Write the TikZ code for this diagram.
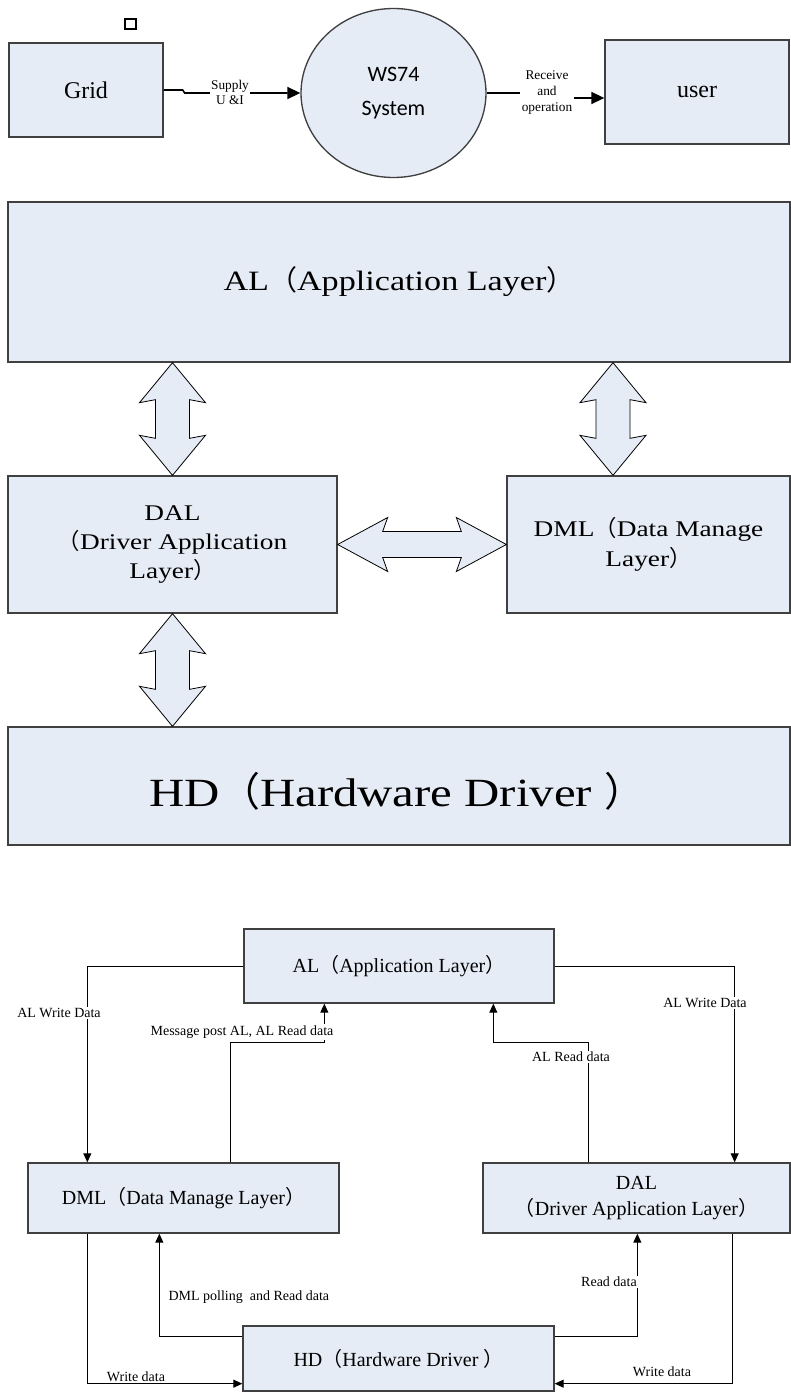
\documentclass[tikz,border=0pt]{standalone}
\usepackage{fontspec}
\setmainfont{Liberation Serif}
\newfontfamily\widefont[FakeStretch=1.22]{Liberation Serif}
\newfontfamily\cjk{Noto Sans CJK SC}
\newfontfamily\calfont{Carlito}
\usetikzlibrary{shapes.geometric, arrows.meta, calc}

\definecolor{boxfill}{RGB}{230,236,246}
\definecolor{boxline}{RGB}{64,64,64}

\newcommand{\lpar}{{\cjk （}}
\newcommand{\rpar}{{\cjk ）}}

\tikzset{
  box/.style={draw=boxline, fill=boxfill, line width=1pt, inner sep=0pt, align=center},
  blockarrow/.style={draw=black, fill=boxfill, line width=0.6pt, line join=miter},
  flow/.style={-{Triangle[length=9.75pt,width=9pt]}, line width=1.2pt},
  link/.style={-{Triangle[length=6.75pt,width=6pt]}, line width=0.75pt},
  tag/.style={fill=white, inner sep=1pt, align=center, font=\fontsize{10.5}{12}\selectfont}
}

% double block arrow, tips at #1 (top) and #2 (bottom)
\newcommand{\vdouble}[2]{%
  \draw[blockarrow] (#1) -- ($(#1)+(33,40)$) -- ($(#1)+(17,37)$) -- ($(#2)+(17,-37)$)
    -- ($(#2)+(33,-40)$) -- (#2) -- ($(#2)+(-33,-40)$) -- ($(#2)+(-17,-37)$)
    -- ($(#1)+(-17,37)$) -- ($(#1)+(-33,40)$) -- cycle;}
% the same lying down, tips at #1 (left) and #2 (right)
\newcommand{\hdouble}[2]{%
  \draw[blockarrow] (#1) -- ($(#1)+(50,-27)$) -- ($(#1)+(45,-13)$) -- ($(#2)+(-45,-13)$)
    -- ($(#2)+(-50,-27)$) -- (#2) -- ($(#2)+(-50,27)$) -- ($(#2)+(-45,13)$)
    -- ($(#1)+(45,13)$) -- ($(#1)+(50,27)$) -- cycle;}

\begin{document}
\begin{tikzpicture}[x=0.75pt,y=0.75pt,yscale=-1,xscale=1]
\useasboundingbox (0,0) rectangle (791,1392);

%Shape: Square
\draw [line width=1pt] (125,19) rectangle (136,29);

%Shape: Rectangle, Ellipse
\node [box, minimum width=115.5pt, minimum height=70.5pt, font=\fontsize{18}{21}\selectfont] (grid) at (86,90) {Grid};
\node [box, ellipse, minimum width=138.75pt, minimum height=126.75pt, font=\calfont\fontsize{16.5}{26}\selectfont] (ws) at (393.5,93) {WS74\\System};
\node [box, minimum width=138pt, minimum height=78pt, font=\fontsize{18}{21}\selectfont] (user) at (697,92) {user};

%Straight Lines
\draw [flow] (grid.east) -- ++(19,0) -- ++(2,3) -- (ws.west);
\draw [flow] (ws.east) -- ++(61,0) -- ++(0,5) coordinate (rx) -- (rx -| user.west);
% Text Node
\node [tag, font=\fontsize{10}{11.5}\selectfont] (supply) at (230,92.5) {Supply\\U \&I};
\node [tag, font=\fontsize{10}{12}\selectfont] (recv) at (547,93) {Receive\\and\\operation};

%Shape: Rectangle
\node [box, minimum width=586.5pt, minimum height=120pt, font=\widefont\fontsize{21}{25}\selectfont] (al) at (399,282) {AL\lpar Application Layer\rpar};
\node [box, minimum width=246.75pt, minimum height=102.75pt, font=\widefont\fontsize{16.8}{21.5}\selectfont] (dal) at (172.5,544.5) {DAL\\\lpar Driver Application\\Layer\rpar};
\node [box, minimum width=212.25pt, minimum height=102.75pt, font=\widefont\fontsize{16.8}{22.5}\selectfont] (dml) at (648.5,544.5) {DML\lpar Data Manage\\Layer\rpar};
\node [box, minimum width=586.5pt, minimum height=88.5pt] (hd) at (399,786) {};
% Text Node
\node [anchor=base, inner sep=0pt, font=\widefont\fontsize{30}{36}\selectfont] (hdtext) at (397,806) {HD\lpar Hardware Driver \rpar};

%Double Arrows
\coordinate (rA) at ($(dml.north)+(-35.5,0)$);
\vdouble{dal.north |- al.south}{dal.north}
\vdouble{rA |- al.south}{rA}
\vdouble{dal.south}{hd.north -| dal.south}
\hdouble{dal.east}{dml.west}

%Shape: Rectangle
\node [box, minimum width=232.5pt, minimum height=55.5pt, font=\fontsize{15}{19.5}\selectfont] (alB) at (399,966) {AL\lpar Application Layer\rpar};
\node [box, minimum width=233.25pt, minimum height=52.5pt, font=\fontsize{15}{19.5}\selectfont] (dmlB) at (183.5,1198) {DML\lpar Data Manage Layer\rpar};
\node [box, minimum width=230.25pt, minimum height=52.5pt, font=\fontsize{15}{19.5}\selectfont] (dalB) at (636.5,1198) {DAL\\\lpar Driver Application Layer\rpar};
\node [box, minimum width=233.25pt, minimum height=48.75pt, font=\fontsize{15}{19.5}\selectfont] (hdB) at (398.5,1358.5) {HD\lpar Hardware Driver \rpar};

%Straight Lines
\draw [link] (alB.west) -| ($(dmlB.north west)+(60,0)$);
\draw [link] (alB.east) -| ($(dalB.north east)+(-56,0)$);
\draw [link] ($(dmlB.north west)+(203,0)$) -- ++(0,-120) -| ($(alB.south west)+(81,0)$);
\draw [link] ($(dalB.north west)+(106,0)$) -- ++(0,-120) -| ($(alB.south west)+(250,0)$);
\draw [link] ($(hdB.north west)+(0,11)$) -| ($(dmlB.south west)+(132,0)$);
\draw [link] ($(dmlB.south west)+(60,0)$) |- ($(hdB.south west)+(0,-8)$);
\draw [link] ($(hdB.north east)+(0,11)$) -| ($(dalB.south west)+(155,0)$);
\draw [link] ($(dalB.south west)+(250,0)$) |- ($(hdB.south east)+(0,-8)$);

% Text Node
\node [tag] (wrL) at (59,1013) {AL Write Data};
\node [tag] (wrR) at (705,1003) {AL Write Data};
\node [tag] (msg) at (242,1032) {Message post AL, AL Read data};
\node [tag] (rdAL) at (571,1057) {AL Read data};
\node [tag, anchor=west] (poll) at (167,1297) {DML polling\ \ and Read data};
\node [tag] (rdDAL) at (609,1282) {Read data};
\node [tag] (wdL) at (136,1377) {Write data};
\node [tag] (wdR) at (662,1372) {Write data};

\end{tikzpicture}
\end{document}
